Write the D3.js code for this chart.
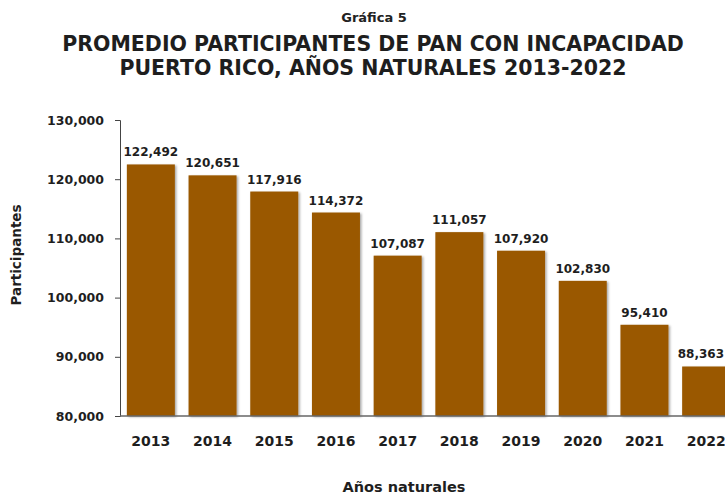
<!DOCTYPE html>
<html><head><meta charset="utf-8">
<script src="https://cdn.jsdelivr.net/npm/d3@7"></script>
<style>
body{margin:0;background:#fff;}
svg{display:block;font-family:"DejaVu Sans",sans-serif;font-weight:bold;}
</style></head>
<body><div id="chart"></div>
<script>
const years = ["2013","2014","2015","2016","2017","2018","2019","2020","2021","2022"];
const participants = [122492,120651,117916,114372,107087,111057,107920,102830,95410,88363];
const yTicks = [80000,90000,100000,110000,120000,130000];
const titleSmall = "Gráfica 5";
const titleLines = ["PROMEDIO PARTICIPANTES DE PAN CON INCAPACIDAD","PUERTO RICO, AÑOS NATURALES 2013-2022"];
const xTitle = "Años naturales";
const yTitle = "Participantes";

const W=725,H=497;
const svg=d3.select("#chart").append("svg").attr("width",W).attr("height",H);
const defs=svg.append("defs");
const f=defs.append("filter").attr("id","sh").attr("x","-10%").attr("y","-10%").attr("width","130%").attr("height","130%");
f.append("feDropShadow").attr("dx",1.5).attr("dy",1).attr("stdDeviation",1.2).attr("flood-color","#000").attr("flood-opacity",0.35);

const x=d3.scaleBand().domain(years).range([120,737]).paddingInner(0.222).paddingOuter(0.111);
const y=d3.scaleLinear().domain([80000,130000]).range([416,120]);
const fmt=d3.format(",");

// title
svg.append("text").attr("x",374).attr("y",22).attr("text-anchor","middle").attr("font-size",13).attr("fill","#222").text(titleSmall);
svg.selectAll(".tl").data(titleLines).join("text").attr("class","tl")
 .attr("x",373).attr("y",(d,i)=>51+i*24).attr("text-anchor","middle").attr("font-size",20.5).attr("fill","#1e1e1e").text(d=>d);

// bars
svg.append("g").selectAll("rect").data(participants).join("rect")
 .attr("x",(d,i)=>x(years[i])).attr("width",x.bandwidth())
 .attr("y",d=>y(d)).attr("height",d=>y(80000)-y(d))
 .attr("fill","#9a5800").attr("filter","url(#sh)");

// value labels (kept inside the picture)
svg.append("g").selectAll("text").data(participants).join("text")
 .attr("x",(d,i)=>x(years[i])+x.bandwidth()/2).attr("y",d=>y(d)-8)
 .attr("text-anchor","middle").attr("font-size",12).attr("fill","#1e1e1e").text(d=>fmt(d))
 .each(function(){
   const bb=this.getBBox();
   if(bb.x+bb.width>W-1){ d3.select(this).attr("text-anchor","end").attr("x",W-1); }
 });

// y axis
const ya=svg.append("g").attr("transform","translate(120,0)")
 .call(d3.axisLeft(y).tickValues(yTicks).tickFormat(fmt).tickSize(5).tickPadding(11));
ya.select(".domain").attr("stroke","#444");
ya.selectAll(".tick line").attr("stroke","#444");
ya.selectAll(".tick text").attr("font-size",12.5).attr("font-family","DejaVu Sans").attr("font-weight","bold").attr("fill","#1e1e1e");

// baseline
svg.append("line").attr("x1",120).attr("x2",W).attr("y1",y(80000)).attr("y2",y(80000)).attr("stroke","#666").attr("stroke-width",1.5);

// x labels
svg.append("g").selectAll("text").data(years).join("text")
 .attr("x",d=>x(d)+x.bandwidth()/2).attr("y",446).attr("text-anchor","middle")
 .attr("font-size",14).attr("fill","#1e1e1e").text(d=>d);

// axis titles
svg.append("text").attr("x",404).attr("y",492).attr("text-anchor","middle").attr("font-size",14.5).attr("fill","#1e1e1e").text(xTitle);
svg.append("text").attr("transform","translate(21,255) rotate(-90)").attr("text-anchor","middle").attr("font-size",13.5).attr("fill","#1e1e1e").text(yTitle);
</script></body></html>
